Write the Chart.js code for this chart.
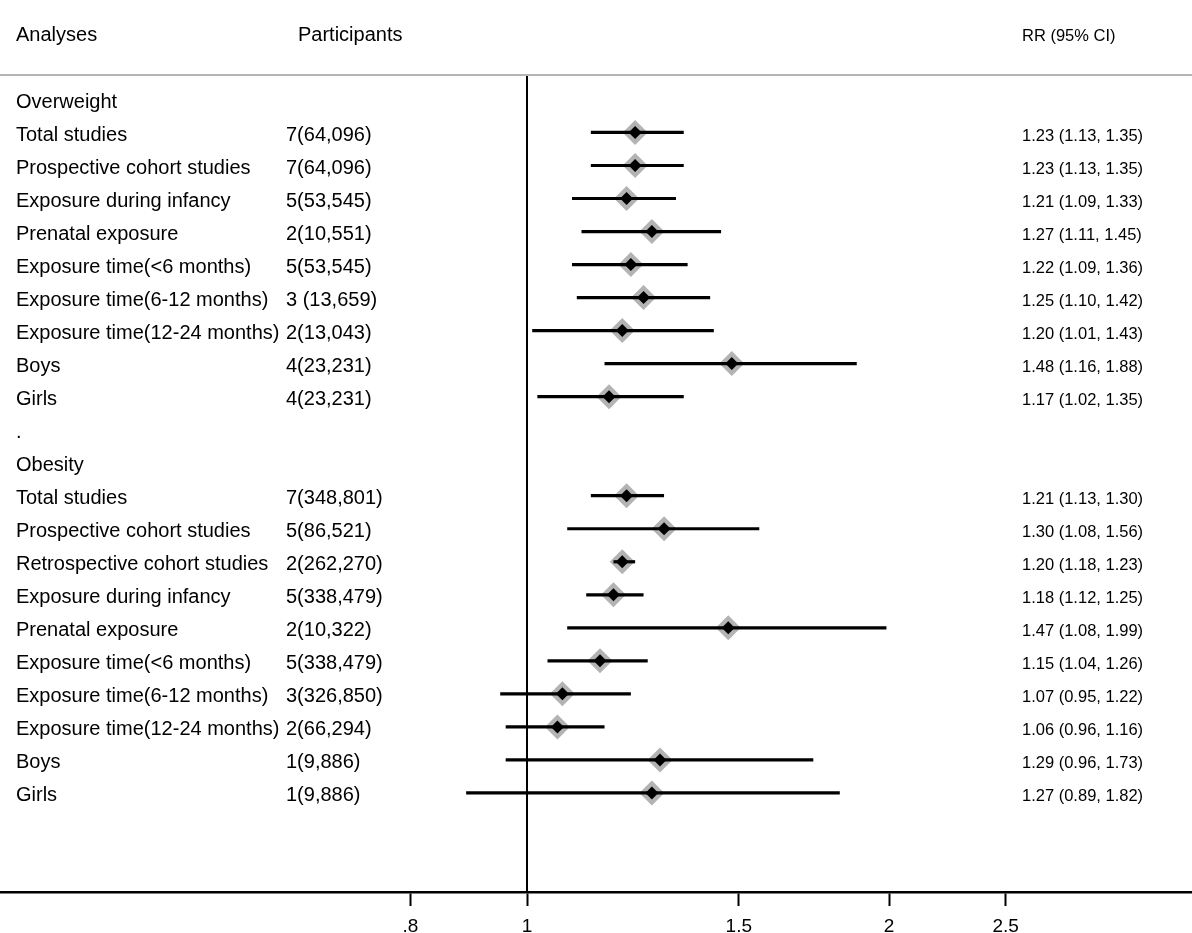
<!DOCTYPE html>
<html lang="en">
  <head>
    <meta charset="UTF-8" />
    <title>Forest plot</title>
    <script src="https://cdn.jsdelivr.net/npm/chart.js"></script>
    <style>
      * {
        margin: 0;
        padding: 0;
        box-sizing: border-box;
      }
      body {
        background: #fff;
        font-family: "Liberation Sans", Arial, sans-serif;
      }
      .chart-box {
        width: 1192px;
        height: 933px;
        position: relative;
      }
    </style>
  </head>
  <body>
    <div class="chart-box">
      <canvas id="forest"></canvas>
    </div>

    <script>
      // rows of the table, top to bottom (headers and spacer rows have no estimate)
      const analyses = [
        "Overweight",
        "Total studies",
        "Prospective cohort studies",
        "Exposure during infancy",
        "Prenatal exposure",
        "Exposure time(<6 months)",
        "Exposure time(6-12 months)",
        "Exposure time(12-24 months)",
        "Boys",
        "Girls",
        ".",
        "Obesity",
        "Total studies",
        "Prospective cohort studies",
        "Retrospective cohort studies",
        "Exposure during infancy",
        "Prenatal exposure",
        "Exposure time(<6 months)",
        "Exposure time(6-12 months)",
        "Exposure time(12-24 months)",
        "Boys",
        "Girls",
      ];
      const participants = [
        "", "7(64,096)", "7(64,096)", "5(53,545)", "2(10,551)", "5(53,545)",
        "3 (13,659)", "2(13,043)", "4(23,231)", "4(23,231)",
        "", "", "7(348,801)", "5(86,521)", "2(262,270)", "5(338,479)",
        "2(10,322)", "5(338,479)", "3(326,850)", "2(66,294)", "1(9,886)", "1(9,886)",
      ];
      const rr = [
        null, 1.23, 1.23, 1.21, 1.27, 1.22, 1.25, 1.20, 1.48, 1.17,
        null, null, 1.21, 1.30, 1.20, 1.18, 1.47, 1.15, 1.07, 1.06, 1.29, 1.27,
      ];
      const lower = [
        null, 1.13, 1.13, 1.09, 1.11, 1.09, 1.10, 1.01, 1.16, 1.02,
        null, null, 1.13, 1.08, 1.18, 1.12, 1.08, 1.04, 0.95, 0.96, 0.96, 0.89,
      ];
      const upper = [
        null, 1.35, 1.35, 1.33, 1.45, 1.36, 1.42, 1.43, 1.88, 1.35,
        null, null, 1.30, 1.56, 1.23, 1.25, 1.99, 1.26, 1.22, 1.16, 1.73, 1.82,
      ];
      const xTicks = [0.8, 1, 1.5, 2, 2.5];

      const FONT = '"Liberation Sans", Arial, sans-serif';

      var ciSets = [];
      var points = [];
      rr.forEach(function (v, i) {
        if (v === null) return;
        points.push({ x: v, y: i });
        ciSets.push({
          data: [
            { x: lower[i], y: i },
            { x: upper[i], y: i },
          ],
          showLine: true,
          borderColor: "#000",
          borderWidth: 3.2,
          pointRadius: 0,
          order: 1,
        });
      });

      function fmt(n) {
        return n.toFixed(2);
      }

      // table text + header rule
      const tablePlugin = {
        id: "tableText",
        afterDraw(chart) {
          const ctx = chart.ctx;
          const y = chart.scales.y;
          const area = chart.chartArea;
          ctx.save();
          ctx.strokeStyle = "#b5b5b5";
          ctx.lineWidth = 2;
          ctx.beginPath();
          ctx.moveTo(0, area.top);
          ctx.lineTo(chart.width, area.top);
          ctx.stroke();

          ctx.fillStyle = "#000";
          ctx.textBaseline = "alphabetic";
          ctx.textAlign = "left";
          var hy = y.getPixelForValue(-2) + 8;
          ctx.font = "20px " + FONT;
          ctx.fillText("Analyses", 16, hy);
          ctx.fillText("Participants", 298, hy);
          ctx.font = "16.5px " + FONT;
          ctx.fillText("RR (95% CI)", 1022, hy);

          analyses.forEach(function (label, i) {
            var py = y.getPixelForValue(i) + 8.5;
            ctx.font = "20px " + FONT;
            ctx.fillText(label, 16, py);
            if (participants[i]) ctx.fillText(participants[i], 286, py);
            if (rr[i] !== null) {
              ctx.font = "16.5px " + FONT;
              ctx.fillText(
                fmt(rr[i]) + " (" + fmt(lower[i]) + ", " + fmt(upper[i]) + ")",
                1022,
                py
              );
            }
          });
          ctx.restore();
        },
      };

      var ctx = document.getElementById("forest").getContext("2d");
      new Chart(ctx, {
        type: "scatter",
        data: {
          datasets: [
            {
              // null line at RR = 1
              data: [
                { x: 1, y: -0.74 },
                { x: 1, y: 24 },
              ],
              showLine: true,
              borderColor: "#000",
              borderWidth: 2,
              pointRadius: 0,
              order: 3,
            },
            {
              data: points,
              pointStyle: "rectRot",
              pointRadius: 12.5,
              backgroundColor: "#b3b3b3",
              borderWidth: 0,
              order: 2,
            },
            ...ciSets,
            {
              data: points,
              pointStyle: "rectRot",
              pointRadius: 6.5,
              backgroundColor: "#000",
              borderWidth: 0,
              order: 0,
            },
          ],
        },
        options: {
          responsive: true,
          maintainAspectRatio: false,
          animation: false,
          layout: {
            autoPadding: false,
            padding: { top: 75, left: 0, right: 0, bottom: 0 },
          },
          plugins: {
            legend: { display: false },
            tooltip: { enabled: false },
          },
          scales: {
            x: {
              type: "logarithmic",
              min: 0.3646,
              max: 3.572,
              afterBuildTicks(scale) {
                scale.ticks = xTicks.map((v) => ({ value: v }));
              },
              afterFit(scale) {
                scale.height = 41;
              },
              ticks: {
                color: "#000",
                padding: 9,
                maxRotation: 0,
                autoSkip: false,
                font: { family: FONT, size: 19 },
                callback: function (v) {
                  return v < 1 ? String(v).replace(/^0/, "") : String(v);
                },
              },
              grid: {
                drawOnChartArea: false,
                drawTicks: true,
                tickLength: 14,
                tickColor: "#000",
                tickWidth: 2,
              },
              border: { display: true, color: "#000", width: 2.5 },
            },
            y: {
              type: "linear",
              reverse: true,
              min: -0.74,
              max: 24,
              display: false,
            },
          },
        },
        plugins: [tablePlugin],
      });
    </script>
  </body>
</html>
